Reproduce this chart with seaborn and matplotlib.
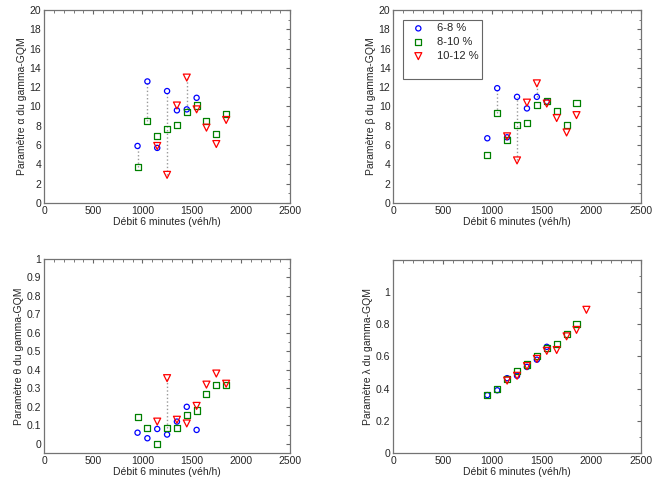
import numpy as np
import pandas as pd
import seaborn as sns
import matplotlib.pyplot as plt
from matplotlib.patches import Rectangle
from matplotlib.ticker import MultipleLocator

# debit 6 minutes (veh/h)
debit = [950, 1050, 1150, 1250, 1350, 1450, 1550, 1650, 1750, 1850, 1950]
classes = ['6-8 %', '8-10 %', '10-12 %']

# parametre alpha
alpha_68 = [5.9, 12.6, 5.7, 11.6, 9.6, 9.7, 10.9, None, None, None, None]
alpha_810 = [3.7, 8.5, 6.9, 7.7, 8.1, 9.4, 10.1, 8.5, 7.1, 9.2, None]
alpha_1012 = [None, None, 5.9, 2.9, 10.1, 13.0, 9.7, 7.8, 6.1, 8.6, None]
alpha_links = [(950, '6-8 %', '8-10 %'), (1050, '6-8 %', '8-10 %'),
               (1250, '6-8 %', '10-12 %'), (1450, '10-12 %', '6-8 %')]

# parametre beta
beta_68 = [6.7, 11.9, 6.8, 11.0, 9.8, 11.0, 10.5, None, None, None, None]
beta_810 = [5.0, 9.3, 6.5, 8.1, 8.3, 10.2, 10.6, 9.5, 8.1, 10.4, None]
beta_1012 = [None, None, 6.9, 4.4, 10.4, 12.4, 10.3, 8.8, 7.3, 9.1, None]
beta_links = [(1050, '6-8 %', '8-10 %'), (1250, '6-8 %', '10-12 %'),
              (1450, '10-12 %', '6-8 %')]

# parametre theta
theta_68 = [0.06, 0.03, 0.08, 0.05, 0.12, 0.20, 0.075, None, None, None, None]
theta_810 = [0.145, 0.085, 0.0, 0.085, 0.085, 0.155, 0.18, 0.27, 0.32, 0.32, None]
theta_1012 = [None, None, 0.12, 0.355, 0.13, 0.11, 0.205, 0.32, 0.38, 0.325, None]
theta_links = [(1250, '10-12 %', '8-10 %')]

# parametre lambda
lambda_68 = [0.36, 0.39, 0.465, 0.48, 0.535, 0.58, 0.66, None, None, None, None]
lambda_810 = [0.36, 0.40, 0.46, 0.51, 0.55, 0.60, 0.65, 0.68, 0.74, 0.80, None]
lambda_1012 = [None, None, 0.45, 0.48, 0.54, 0.585, 0.635, 0.64, 0.725, 0.765, 0.89]
lambda_links = []

couleurs = {'6-8 %': '#0000ff', '8-10 %': '#008000', '10-12 %': '#ff0000'}
marqueurs = {'6-8 %': 'o', '8-10 %': 's', '10-12 %': 'v'}
tailles = {'6-8 %': 14, '8-10 %': 19, '10-12 %': 25}

sns.set_style('white')
plt.rcParams['font.family'] = ['Liberation Sans', 'DejaVu Sans']
plt.rcParams['font.size'] = 7.5


def make_df(s68, s810, s1012):
    rows = []
    for lab, serie in zip(classes, [s68, s810, s1012]):
        for d, v in zip(debit, serie):
            if v is not None:
                rows.append({'debit': d, 'valeur': v, 'classe': lab})
    return pd.DataFrame(rows)


panels = [
    ('α', make_df(alpha_68, alpha_810, alpha_1012), alpha_links,
     (0, 20), np.arange(0, 21, 2), 1, [0.0675, 0.581, 0.3775, 0.398]),
    ('β', make_df(beta_68, beta_810, beta_1012), beta_links,
     (0, 20), np.arange(0, 21, 2), 1, [0.603, 0.581, 0.380, 0.398]),
    ('θ', make_df(theta_68, theta_810, theta_1012), theta_links,
     (-0.05, 1.0), np.round(np.arange(0, 1.01, 0.1), 1), 0.05, [0.0675, 0.064, 0.3775, 0.401]),
    ('λ', make_df(lambda_68, lambda_810, lambda_1012), lambda_links,
     (0, 1.2), np.round(np.arange(0, 1.01, 0.2), 1), 0.1, [0.603, 0.064, 0.380, 0.399]),
]

fig = plt.figure(figsize=(6.52, 4.84), dpi=100)
axes = []
for sym, df, links, ylim, yticks, yminor, pos in panels:
    ax = fig.add_axes(pos)
    axes.append(ax)
    for x, a, b in links:
        ya = df[(df.debit == x) & (df.classe == a)].valeur.iloc[0]
        yb = df[(df.debit == x) & (df.classe == b)].valeur.iloc[0]
        ax.vlines(x, min(ya, yb), max(ya, yb), colors='0.6', linestyles=':', lw=1, zorder=1)
    for lab in classes:
        sub = df[df.classe == lab]
        sns.scatterplot(data=sub, x='debit', y='valeur', marker=marqueurs[lab],
                        s=tailles[lab], color=couleurs[lab], linewidth=0.9, ax=ax,
                        label=lab, legend=False, zorder=3)
        coll = ax.collections[-1]
        coll.set_facecolor('none')
        coll.set_edgecolor(couleurs[lab])
    ax.set_xlim(0, 2500)
    ax.set_ylim(*ylim)
    ax.set_xticks(np.arange(0, 2501, 500))
    ax.set_yticks(yticks)
    ax.set_yticklabels([f'{v:g}' for v in yticks])
    ax.xaxis.set_minor_locator(MultipleLocator(100))
    ax.yaxis.set_minor_locator(MultipleLocator(yminor))
    ax.tick_params(which='both', direction='in', top=True, right=True,
                   color='0.4', labelsize=7.5, pad=2)
    ax.tick_params(which='major', length=3, width=0.8)
    ax.tick_params(which='minor', length=1.8, width=0.6)
    for sp in ax.spines.values():
        sp.set_color('0.45')
        sp.set_linewidth(0.9)
    ax.set_xlabel('Débit 6 minutes (véh/h)', fontsize=7.5, labelpad=1)
    ax.set_ylabel(f'Paramètre {sym} du gamma-GQM', fontsize=7.5, labelpad=2)

# legende (panneau beta)
ax = axes[1]
ax.add_patch(Rectangle((0.04, 0.642), 0.319, 0.306, transform=ax.transAxes,
                       fill=True, facecolor='white', edgecolor='0.4', lw=0.8, zorder=4))
ax.legend(loc='upper left', bbox_to_anchor=(0.05, 0.955), frameon=False,
          fontsize=8, labelspacing=0.35, handlelength=1.5, handletextpad=0.9,
          borderaxespad=0)

fig.savefig('out.png', dpi=100)
